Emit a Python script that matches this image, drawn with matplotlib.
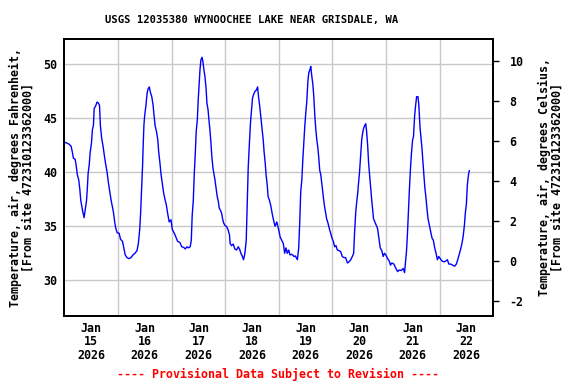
import numpy as np
import matplotlib.pyplot as plt

# Air temperature, USGS 12035380, hours since 2026-01-15 00:00
hours = [0.0, 2.1, 3.0, 3.6, 4.0, 4.8, 5.2, 5.8, 6.4, 6.9, 7.3, 7.8, 8.2, 8.8, 9.3, 9.9,
         10.3, 10.6, 11.1, 11.5, 12.1, 12.5, 13.0, 13.3, 13.9, 14.6, 15.2, 15.7, 16.1, 16.7,
         17.3, 17.9, 18.5, 19.1, 19.7, 20.3, 20.9, 21.3, 21.9, 22.5, 23.0, 23.6, 24.5, 25.1,
         26.0, 26.6, 27.2, 28.0, 28.9, 29.8, 30.7, 31.6, 32.5, 33.1, 33.7, 34.1, 34.6, 35.0,
         35.3, 35.6, 35.9, 36.5, 37.0, 37.4, 38.0, 38.5, 39.1, 39.7, 40.1, 40.6, 41.2, 41.8,
         42.2, 42.8, 43.2, 43.8, 44.4, 45.0, 45.6, 46.2, 46.9, 47.7, 48.3, 49.2, 49.9, 50.7,
         51.7, 52.5, 53.4, 54.1, 54.9, 55.6, 56.3, 56.8, 57.2, 57.7, 58.1, 58.6, 59.0, 59.5,
         59.9, 60.4, 60.7, 61.1, 61.6, 62.0, 62.5, 62.9, 63.4, 63.8, 64.3, 64.7, 65.2, 65.6,
         66.0, 66.5, 66.9, 67.4, 67.8, 68.4, 68.9, 69.3, 69.8, 70.4, 70.8, 71.3, 71.8, 72.7,
         73.3, 73.9, 74.2, 74.8, 75.6, 76.3, 77.1, 77.8, 78.4, 79.0, 79.7, 80.2, 80.8, 81.4,
         81.7, 82.0, 82.3, 82.6, 82.9, 83.3, 83.8, 84.2, 84.7, 85.3, 85.9, 86.5, 86.9, 87.4,
         88.0, 88.5, 89.0, 89.4, 89.9, 90.3, 90.8, 91.2, 91.8, 92.4, 93.0, 93.6, 94.3, 95.1,
         95.8, 96.6, 97.3, 98.0, 98.6, 99.2, 99.8, 100.4, 101.0, 101.9, 102.8, 103.4, 104.3,
         104.9, 105.4, 105.8, 106.3, 106.7, 107.2, 107.6, 108.1, 108.5, 109.0, 109.4, 109.9,
         110.3, 110.7, 111.2, 111.6, 112.1, 112.5, 113.0, 113.4, 113.9, 114.3, 114.8, 115.2,
         115.6, 116.1, 116.5, 117.0, 117.4, 118.0, 118.6, 119.2, 119.8, 120.4, 121.0, 121.6,
         122.2, 122.9, 123.7, 124.4, 125.2, 125.9, 126.7, 127.4, 128.2, 128.9, 129.5, 129.9,
         130.4, 130.8, 131.3, 131.7, 132.2, 132.6, 133.1, 133.5, 134.0, 134.4, 134.9, 135.3,
         135.8, 136.2, 136.7, 137.1, 137.6, 138.0, 138.4, 139.0, 139.6, 140.2, 140.8, 141.4,
         142.1, 142.7, 143.3, 143.9, 144.7, 145.4, 146.0, 146.6, 147.5, 148.4, 149.2, 149.9,
         150.8, 151.7, 152.3, 152.8, 153.2, 153.6, 154.1, 154.5, 155.0, 155.4, 155.9, 156.3,
         156.8, 157.2, 157.7, 158.3, 158.7, 159.2, 159.6, 160.1, 160.5, 161.0, 161.4, 161.9,
         162.3, 162.8, 163.4, 164.0, 164.6, 165.2, 165.8, 166.4, 167.0, 167.6, 168.3, 169.0,
         169.9, 170.9, 171.5, 172.1, 172.9, 173.8, 174.7, 175.5, 176.1, 176.7, 177.3, 177.9,
         178.5, 179.1, 179.5, 180.0, 180.4, 180.9, 181.3]
temp_f = [42.8, 42.6, 42.4, 41.8, 41.3, 41.2, 40.7, 39.75, 39.3, 38.4, 37.4, 36.8, 36.35, 35.8, 36.5, 37.4,
          38.7, 39.9, 40.7, 41.8, 42.7, 43.9, 44.4, 45.9, 46.1, 46.5, 46.4, 46.2, 44.3, 43.1,
          42.4, 41.5, 40.7, 40.0, 39.0, 38.2, 37.4, 37.0, 36.35, 35.4, 34.8, 34.4, 34.35, 33.8,
          33.6, 33.0, 32.35, 32.1, 32.0, 32.1, 32.35, 32.5, 32.75, 33.4, 34.7, 36.2, 38.7, 40.7,
          42.8, 44.4, 45.2, 46.2, 47.3, 47.7, 47.9, 47.4, 47.0, 46.2, 45.3, 44.3, 43.8, 43.0,
          41.9, 40.8, 39.9, 39.0, 38.1, 37.5, 37.0, 36.2, 35.4, 35.6, 34.7, 34.35, 34.0, 33.6,
          33.5, 33.1, 33.05, 32.9, 33.1, 33.0, 33.1, 33.7, 36.0, 37.4, 39.7, 41.8, 43.8, 44.85,
          46.7, 48.5, 49.5, 50.4, 50.65, 50.25, 49.4, 48.9, 47.8, 46.4, 45.8, 44.85, 43.8, 42.7,
          41.45, 40.4, 39.9, 39.3, 38.7, 37.75, 37.3, 36.7, 36.5, 36.2, 35.7, 35.3, 35.1, 34.95,
          34.65, 34.2, 33.4, 33.2, 33.35, 32.9, 32.8, 33.1, 32.9, 32.5, 32.2, 31.9, 32.5, 33.7,
          35.85, 38.05, 40.5, 41.8, 43.0, 44.55, 45.9, 46.85, 47.2, 47.5, 47.6, 47.9, 47.0, 46.2,
          45.0, 44.1, 43.0, 41.9, 40.85, 39.75, 38.8, 37.75, 37.4, 36.9, 36.2, 35.6, 35.0, 35.4,
          34.8, 34.0, 33.7, 33.4, 32.5, 33.0, 32.5, 32.8, 32.35, 32.4, 32.2, 32.25, 31.9,
          33.0, 35.6, 38.2, 39.3, 41.0, 42.8, 44.2, 45.6, 46.5, 48.4, 49.2, 49.5,
          49.8, 49.0, 48.2, 47.2, 45.3, 44.1, 43.0, 42.4, 41.3, 40.2, 39.75, 39.0,
          38.2, 37.4, 36.8, 36.2, 35.7, 35.3, 34.8, 34.35, 33.9, 33.6, 33.1, 33.2,
          32.8, 32.75, 32.65, 32.2, 32.1, 32.1, 31.6, 31.7, 31.9, 32.2, 32.5, 34.35,
          36.2, 37.1, 38.05, 39.0, 40.2, 41.45, 43.0, 43.6, 44.1, 44.3, 44.5, 43.8,
          42.4, 40.85, 39.6, 38.55, 37.4, 36.5, 35.7, 35.4, 35.1, 34.8, 33.9, 33.0,
          32.75, 32.2, 32.5, 32.35, 32.0, 31.8, 31.4, 31.6, 31.5, 31.1, 30.8, 30.95,
          30.9, 31.1, 30.7, 31.9, 32.8, 34.35, 36.8, 38.55, 40.55, 41.8, 43.0, 43.3,
          45.2, 46.1, 47.0, 47.0, 46.2, 44.2, 43.3, 42.2, 41.0, 39.6, 38.55, 37.6,
          36.7, 35.7, 35.1, 34.5, 33.9, 33.7, 33.0, 32.5, 31.9, 32.2, 32.0, 31.8,
          31.7, 31.8, 31.9, 31.5, 31.5, 31.4, 31.3, 31.5, 31.9, 32.35, 32.8, 33.3,
          34.0, 35.1, 36.2, 37.1, 38.8, 39.75, 40.15]

day_labels = ['Jan\n15\n2026', 'Jan\n16\n2026', 'Jan\n17\n2026', 'Jan\n18\n2026',
              'Jan\n19\n2026', 'Jan\n20\n2026', 'Jan\n21\n2026', 'Jan\n22\n2026']
f_ticks = [30, 35, 40, 45, 50]
c_ticks = [-2, 0, 2, 4, 6, 8, 10]

mono = 'DejaVu Sans Mono'

fig = plt.figure(figsize=(5.76, 3.84), dpi=100)
ax = fig.add_axes([64/576, 1-316/384, (493-64)/576, (316-39)/384])

ax.plot(hours, temp_f, color='#0000ff', lw=1.0)

ax.set_xlim(-0.2, 191.9)
ax.set_ylim(26.69, 52.34)

# day labels at noon, grid at midnight
ax.set_xticks([12 + 24*i for i in range(len(day_labels))])
ax.set_xticklabels(day_labels, fontfamily=mono, fontweight='bold', fontsize=8.4,
                   linespacing=1.05)
ax.set_xticks([24*i for i in range(1, 8)], minor=True)
ax.grid(True, which='minor', axis='x', color='#c8c8c8', lw=1.0)
ax.set_yticks(f_ticks)
ax.set_yticklabels([str(v) for v in f_ticks], fontfamily=mono, fontweight='bold', fontsize=8.4)
ax.grid(True, which='major', axis='y', color='#c8c8c8', lw=1.0)
ax.tick_params(axis='both', which='both', length=0, pad=5)
ax.tick_params(axis='x', pad=4)
for s in ax.spines.values():
    s.set_linewidth(1.3)

ax.set_ylabel('Temperature, air, degrees Fahrenheit,\n[From site 472310123362000]',
              fontfamily=mono, fontweight='bold', fontsize=8.4, linespacing=1.0, labelpad=6)

ax2 = ax.twinx()
ax2.set_ylim(-2.75, 11.1)
ax2.set_yticks(c_ticks)
ax2.set_yticklabels([str(v) for v in c_ticks], fontfamily=mono, fontweight='bold', fontsize=8.4)
ax2.tick_params(axis='y', length=4, width=1, pad=8)
ax2.set_ylabel('Temperature, air, degrees Celsius,\n[From site 472310123362000]',
               fontfamily=mono, fontweight='bold', fontsize=8.4, linespacing=1.0, labelpad=10)
for s in ax2.spines.values():
    s.set_linewidth(1.3)

fig.text(252/576, 1-20/384, 'USGS 12035380 WYNOOCHEE LAKE NEAR GRISDALE, WA',
         ha='center', va='center', fontfamily=mono, fontweight='bold', fontsize=7.6)
fig.text(278/576, 1-374/384, '---- Provisional Data Subject to Revision ----',
         ha='center', va='center', color='red', fontfamily=mono, fontweight='bold', fontsize=8.4)

fig.savefig('out.png', dpi=100, facecolor='white')
